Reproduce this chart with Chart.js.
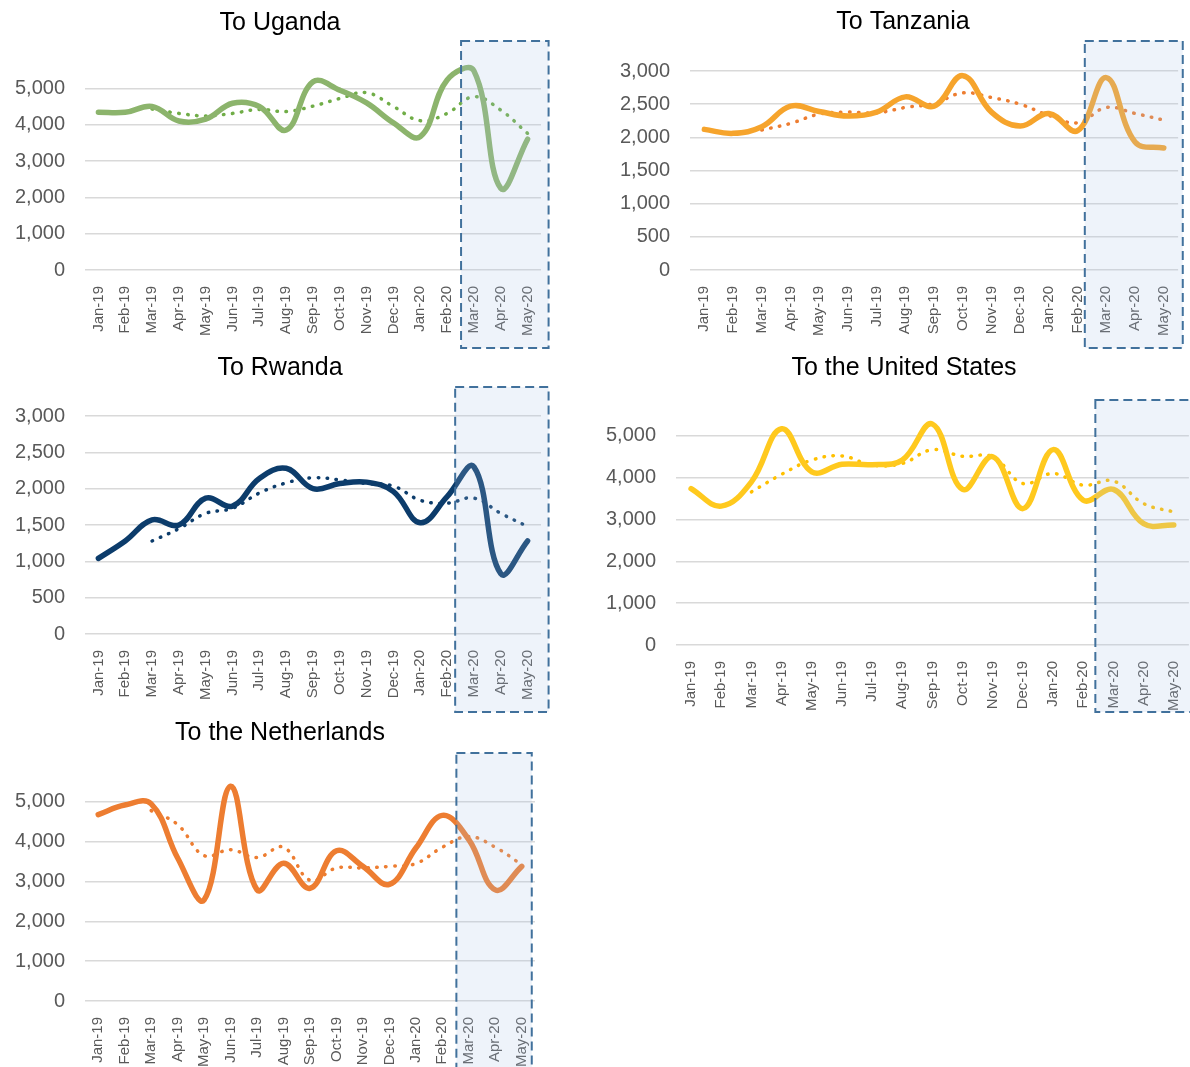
<!DOCTYPE html>
<html>
<head>
<meta charset="utf-8">
<script src="https://cdn.jsdelivr.net/npm/chart.js@4"></script>
<style>
  html, body { margin: 0; padding: 0; background: #fff; overflow: hidden; }
  body { width: 1190px; height: 1067px; position: relative; }
  canvas { position: absolute; }
</style>
</head>
<body>
<canvas id="uganda" width="560" height="355" style="left:0;top:0"></canvas>
<canvas id="tanzania" width="600" height="355" style="left:590px;top:0"></canvas>
<canvas id="rwanda" width="560" height="370" style="left:0;top:350px"></canvas>
<canvas id="us" width="620" height="370" style="left:580px;top:350px"></canvas>
<canvas id="nl" width="560" height="352" style="left:0;top:715px"></canvas>
<script>
// months on the x axis
const months = ['Jan-19','Feb-19','Mar-19','Apr-19','May-19','Jun-19','Jul-19','Aug-19',
  'Sep-19','Oct-19','Nov-19','Dec-19','Jan-20','Feb-20','Mar-20','Apr-20','May-20'];

// monthly values (solid lines) and 3-month moving average (dotted lines)
const ugandaVals = [4340,4340,4500,4100,4150,4590,4500,3850,5180,4950,4600,4050,3670,5230,5480,2250,3600];
const ugandaAvg  = [null,null,4430,4310,4240,4310,4420,4360,4510,4720,4880,4500,4110,4310,4770,4400,3760];

const tanzaniaVals = [2120,2060,2160,2470,2390,2320,2380,2610,2470,2930,2380,2170,2360,2100,2900,1930,1840];
const tanzaniaAvg  = [null,null,2110,2210,2350,2380,2370,2450,2510,2670,2600,2500,2330,2220,2450,2360,2260];

const rwandaVals = [1040,1280,1570,1500,1870,1760,2140,2280,2000,2070,2090,1960,1530,1890,2300,830,1280];
const rwandaAvg  = [null,null,1280,1450,1660,1730,1940,2080,2150,2120,2070,2035,1840,1800,1870,1660,1480];

const usVals = [3740,3320,3900,5170,4140,4320,4310,4420,5280,3720,4500,3260,4670,3460,3720,2900,2870];
const usAvg  = [null,null,3660,4080,4420,4520,4300,4340,4670,4510,4500,3860,4100,3820,3920,3380,3180];

const nlVals = [4680,4920,4950,3590,2540,5390,2790,3460,2830,3770,3380,2930,3840,4660,4050,2790,3380];
const nlAvg  = [null,null,4780,4430,3650,3800,3600,3860,3030,3340,3340,3380,3450,3860,4130,3860,3420];

// y ticks: step and last labelled tick
const ticks5000 = {max: 6000, step: 1000, last: 5000};
const ticks3000 = {max: 3000, step: 500, last: 3000};

Chart.defaults.font.family = '"Liberation Sans", Arial, sans-serif';

// dashed shaded box over Mar-20 .. May-20
const boxPlugin = {
  id: 'covidBox',
  afterDatasetsDraw(chart, args, o) {
    const x = chart.scales.x;
    const i = months.indexOf('Feb-20');
    const step = x.getPixelForValue(1) - x.getPixelForValue(0);
    const left = x.getPixelForValue(i) + o.leftFrac * step;
    const right = x.getPixelForValue(months.length - 1) + o.rightPad;
    const ctx = chart.ctx;
    ctx.save();
    ctx.fillStyle = 'rgba(170,195,230,0.2)';
    ctx.fillRect(left, o.top, right - left, o.bottom - o.top);
    ctx.setLineDash([9, 5]);
    ctx.lineWidth = 2;
    ctx.strokeStyle = '#41719C';
    ctx.strokeRect(left, o.top, right - left, o.bottom - o.top);
    ctx.restore();
  }
};

// chart title, placed where the original puts it
const titlePlugin = {
  id: 'panelTitle',
  afterDraw(chart, args, o) {
    const ctx = chart.ctx;
    ctx.save();
    ctx.font = '25px "Liberation Sans", Arial, sans-serif';
    ctx.fillStyle = '#000';
    ctx.textAlign = 'center';
    ctx.textBaseline = 'middle';
    ctx.fillText(o.text, o.x, o.y);
    ctx.restore();
  }
};

function panel(id, title, vals, avg, solid, dotted, yt, lay, box) {
  new Chart(document.getElementById(id), {
    type: 'line',
    data: {
      labels: months,
      datasets: [{
        data: vals,
        borderColor: solid,
        borderWidth: 5.5,
        tension: 0.4,
        pointRadius: 0,
        borderCapStyle: 'round'
      }, {
        data: avg,
        borderColor: dotted,
        borderWidth: 3.5,
        borderDash: [0.5, 8.5],
        borderCapStyle: 'round',
        tension: 0.4,
        pointRadius: 0
      }]
    },
    options: {
      responsive: false,
      animation: false,
      layout: {padding: {left: 0, right: lay.padR, top: lay.top, bottom: 0}},
      plugins: {
        legend: {display: false},
        tooltip: {enabled: false},
        panelTitle: {text: title, x: lay.tx, y: lay.ty},
        covidBox: box
      },
      scales: {
        x: {
          offset: true,
          grid: {display: false},
          border: {display: false},
          ticks: {minRotation: 90, maxRotation: 90, autoSkip: false, padding: 8,
                  color: '#595959', font: {size: 15}},
          afterFit: s => { s.height = lay.xH; }
        },
        y: {
          min: 0,
          max: yt.max,
          border: {display: false},
          grid: {
            color: c => (c.tick && c.tick.value > yt.last) ? 'rgba(0,0,0,0)' : '#D9D9D9',
            lineWidth: 1.5,
            drawTicks: false
          },
          ticks: {
            stepSize: yt.step,
            padding: 20,
            color: '#595959',
            font: {size: 20},
            callback: v => v > yt.last ? '' : v.toLocaleString('en-US')
          },
          afterFit: s => { s.width = lay.axisW; }
        }
      }
    },
    plugins: [boxPlugin, titlePlugin]
  });
}

panel('uganda', 'To Uganda', ugandaVals, ugandaAvg, '#8CB46C', '#70AD47', ticks5000,
  {padR: 19, axisW: 85, top: 52, xH: 85, tx: 280, ty: 23},
  {leftFrac: 0.52, rightPad: 21, top: 41, bottom: 348});

panel('tanzania', 'To Tanzania', tanzaniaVals, tanzaniaAvg, '#F6A42C', '#ED7D31', ticks3000,
  {padR: 8, axisW: 100, top: 71, xH: 85, tx: 313, ty: 22},
  {leftFrac: 0.25, rightPad: 19, top: 41, bottom: 348});

panel('rwanda', 'To Rwanda', rwandaVals, rwandaAvg, '#0C3C6B', '#0C3C6B', ticks3000,
  {padR: 19, axisW: 85, top: 66, xH: 86, tx: 280, ty: 18},
  {leftFrac: 0.3, rightPad: 21, top: 37, bottom: 362});

panel('us', 'To the United States', usVals, usAvg, '#FFC91E', '#FFC000', ticks5000,
  {padR: 7, axisW: 96, top: 44, xH: 75, tx: 324, ty: 18},
  {leftFrac: 0.4, rightPad: 20, top: 50, bottom: 362});

panel('nl', 'To the Netherlands', nlVals, nlAvg, '#ED7D31', '#ED7D31', ticks5000,
  {padR: 25, axisW: 85, top: 47, xH: 66, tx: 280, ty: 18},
  {leftFrac: 0.53, rightPad: 10, top: 38, bottom: 360});
</script>
</body>
</html>
